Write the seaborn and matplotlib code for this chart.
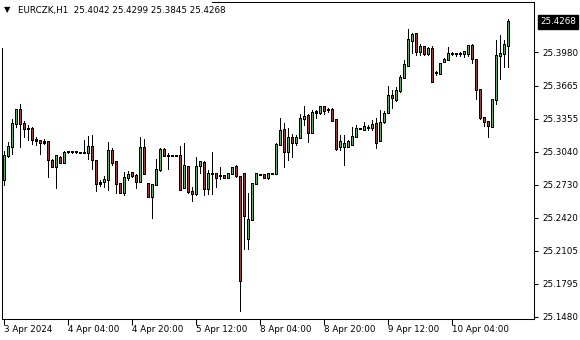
import numpy as np
import pandas as pd
import matplotlib
matplotlib.use("Agg")
import matplotlib.pyplot as plt
import matplotlib.transforms as mtransforms
from matplotlib.patches import Rectangle
import seaborn as sns

symbol = "EURCZK,H1"
time_labels = ["3 Apr 2024", "4 Apr 04:00", "4 Apr 20:00", "5 Apr 12:00",
               "8 Apr 04:00", "8 Apr 20:00", "9 Apr 12:00", "10 Apr 04:00"]
label_bars = [0, 16, 32, 48, 64, 80, 96, 112]
price_ticks = [25.1480, 25.1795, 25.2105, 25.2420, 25.2730,
               25.3040, 25.3355, 25.3665, 25.3980]

opens = [25.2775, 25.3002, 25.3092, 25.3307, 25.3443, 25.3304, 25.3264, 25.3264, 25.3162, 25.3150,
         25.3134, 25.3134, 25.2957, 25.2901, 25.2992, 25.2942, 25.3040, 25.3040, 25.3041, 25.3033,
         25.3033, 25.3037, 25.3093, 25.2961, 25.2749, 25.2759, 25.2775, 25.3058, 25.2945, 25.2744,
         25.2655, 25.2801, 25.2841, 25.2819, 25.2759, 25.3084, 25.2744, 25.2617, 25.2731, 25.2870,
         25.3065, 25.3008, 25.3008, 25.3008, 25.3008, 25.2706, 25.2907, 25.2662, 25.2643, 25.2914,
         25.2938, 25.2693, 25.2838, 25.2838, 25.2816, 25.2819, 25.2801, 25.2832, 25.2907, 25.2806,
         25.2838, 25.2224, 25.2404, 25.2744, 25.2829, 25.2822, 25.2801, 25.2838, 25.2838, 25.3112,
         25.3250, 25.3042, 25.3179, 25.3127, 25.3179, 25.3358, 25.3383, 25.3226, 25.3411, 25.3408,
         25.3465, 25.3439, 25.3439, 25.3345, 25.3090, 25.3096, 25.3090, 25.3112, 25.3184, 25.3257,
         25.3254, 25.3269, 25.3269, 25.3307, 25.3150, 25.3326, 25.3415, 25.3578, 25.3540, 25.3623,
         25.3748, 25.3859, 25.4091, 25.4155, 25.3991, 25.4041, 25.3972, 25.4022, 25.3789, 25.3783,
         25.3897, 25.3916, 25.3972, 25.3969, 25.3972, 25.3972, 25.3972, 25.4048, 25.3916, 25.3632,
         25.3368, 25.3330, 25.3285, 25.3538, 25.3947, 25.3972, 25.4042]

highs = [25.3049, 25.3134, 25.3354, 25.3446, 25.3493, 25.3335, 25.3298, 25.3279, 25.3179, 25.3152,
         25.3165, 25.3136, 25.2971, 25.3002, 25.3002, 25.3052, 25.3052, 25.3050, 25.3050, 25.3035,
         25.3153, 25.3191, 25.3197, 25.2962, 25.2775, 25.2813, 25.3134, 25.3075, 25.2946, 25.2747,
         25.2851, 25.2863, 25.2851, 25.2832, 25.3179, 25.3165, 25.2749, 25.2733, 25.2971, 25.3075,
         25.3075, 25.3033, 25.3010, 25.3010, 25.3096, 25.3125, 25.2909, 25.2706, 25.2995, 25.2955,
         25.2952, 25.2870, 25.3040, 25.2840, 25.2895, 25.2822, 25.2836, 25.2895, 25.2917, 25.2808,
         25.2840, 25.2649, 25.2739, 25.2834, 25.2831, 25.2827, 25.2844, 25.2840, 25.3125, 25.3358,
         25.3314, 25.3266, 25.3207, 25.3200, 25.3396, 25.3471, 25.3402, 25.3434, 25.3439, 25.3477,
         25.3471, 25.3453, 25.3453, 25.3347, 25.3200, 25.3200, 25.3153, 25.3276, 25.3295, 25.3259,
         25.3326, 25.3295, 25.3342, 25.3358, 25.3434, 25.3427, 25.3660, 25.3623, 25.3654, 25.3767,
         25.3909, 25.4199, 25.4161, 25.4161, 25.4060, 25.4043, 25.4035, 25.4041, 25.3808, 25.3883,
         25.3928, 25.4029, 25.3985, 25.3978, 25.3985, 25.3997, 25.4054, 25.4060, 25.3918, 25.3634,
         25.3370, 25.3332, 25.3540, 25.4098, 25.4145, 25.4098, 25.4299]

lows = [25.2728, 25.2988, 25.3021, 25.3279, 25.3090, 25.3184, 25.3153, 25.3115, 25.3103, 25.3021,
        25.3115, 25.2806, 25.2895, 25.2702, 25.2933, 25.2938, 25.3027, 25.3030, 25.3030, 25.3031,
        25.3027, 25.2973, 25.2876, 25.2668, 25.2718, 25.2712, 25.2680, 25.2914, 25.2649, 25.2652,
        25.2636, 25.2775, 25.2803, 25.2697, 25.2757, 25.2827, 25.2615, 25.2413, 25.2729, 25.2863,
        25.3002, 25.2876, 25.3006, 25.3006, 25.2685, 25.2704, 25.2649, 25.2579, 25.2636, 25.2838,
        25.2630, 25.2643, 25.2643, 25.2712, 25.2787, 25.2799, 25.2799, 25.2830, 25.2799, 25.1534,
        25.2126, 25.2126, 25.2402, 25.2742, 25.2827, 25.2799, 25.2787, 25.2836, 25.2836, 25.3106,
        25.2901, 25.2964, 25.2995, 25.3106, 25.3169, 25.3295, 25.3137, 25.3216, 25.3364, 25.3402,
        25.3402, 25.3420, 25.3333, 25.3058, 25.3058, 25.2917, 25.3088, 25.3106, 25.3182, 25.3255,
        25.3252, 25.3245, 25.3248, 25.3075, 25.3148, 25.3318, 25.3413, 25.3458, 25.3522, 25.3604,
        25.3739, 25.3857, 25.3972, 25.3959, 25.3953, 25.3959, 25.3959, 25.3706, 25.3764, 25.3777,
        25.3895, 25.3909, 25.3959, 25.3947, 25.3947, 25.3940, 25.3947, 25.3883, 25.3543, 25.3349,
        25.3285, 25.3184, 25.3283, 25.3493, 25.3727, 25.3846, 25.3845]

closes = [25.3007, 25.3096, 25.3311, 25.3443, 25.3304, 25.3260, 25.3257, 25.3160, 25.3150, 25.3127,
          25.3127, 25.2971, 25.2901, 25.3002, 25.2942, 25.3033, 25.3041, 25.3042, 25.3040, 25.3033,
          25.3037, 25.3093, 25.2971, 25.2744, 25.2737, 25.2782, 25.3058, 25.2938, 25.2744, 25.2655,
          25.2801, 25.2829, 25.2816, 25.2759, 25.3084, 25.2838, 25.2617, 25.2731, 25.2870, 25.3065,
          25.3005, 25.3009, 25.3008, 25.3008, 25.2687, 25.2914, 25.2668, 25.2643, 25.2907, 25.2945,
          25.2693, 25.2832, 25.2837, 25.2801, 25.2817, 25.2801, 25.2832, 25.2893, 25.2813, 25.1823,
          25.2441, 25.2404, 25.2737, 25.2832, 25.2829, 25.2801, 25.2838, 25.2838, 25.3112, 25.3245,
          25.3042, 25.3179, 25.3127, 25.3179, 25.3358, 25.3377, 25.3226, 25.3415, 25.3420, 25.3465,
          25.3434, 25.3438, 25.3339, 25.3075, 25.3137, 25.3122, 25.3137, 25.3184, 25.3257, 25.3257,
          25.3276, 25.3270, 25.3301, 25.3131, 25.3320, 25.3405, 25.3578, 25.3553, 25.3623, 25.3748,
          25.3868, 25.4098, 25.4148, 25.3985, 25.4041, 25.3966, 25.4022, 25.3708, 25.3790, 25.3878,
          25.3916, 25.3972, 25.3973, 25.3968, 25.3973, 25.3987, 25.4048, 25.3925, 25.3632, 25.3368,
          25.3330, 25.3292, 25.3538, 25.3947, 25.3972, 25.4051, 25.4268]

UP_COLOR = "#32CD32"
DOWN_COLOR = "#E01E1E"

sns.set_theme(style="white")
plt.rcParams["font.family"] = ["DejaVu Sans"]

df = pd.DataFrame({"open": opens, "high": highs, "low": lows, "close": closes})
df["bar"] = np.arange(len(df))
df["body_lo"] = df[["open", "close"]].min(axis=1)
df["body_hi"] = df[["open", "close"]].max(axis=1)
df["color"] = np.where(df["close"] > df["open"], UP_COLOR,
                       np.where(df["close"] < df["open"], DOWN_COLOR, "black"))

W, H = 580, 340
fig = plt.figure(figsize=(W / 100, H / 100), dpi=100)
fig.patch.set_facecolor("white")
ax_l, ax_r, ax_t, ax_b = 2, 534, 2, 319
ax = fig.add_axes([ax_l / W, 1 - ax_b / H, (ax_r - ax_l) / W, (ax_b - ax_t) / H])
ax.set_facecolor("white")
ylo, yhi = 25.1461, 25.4457
# bar i centred on pixel column 3 + 4 i
ax.set_xlim(-0.375, 132.625)
ax.set_ylim(ylo, yhi)

px = 72 / 100  # one pixel in points
dy = (yhi - ylo) / (ax_b - ax_t)  # one pixel in price units

x = df["bar"].to_numpy()
# wicks
ax.vlines(x, df["low"].to_numpy(), df["high"].to_numpy(), color="black",
          linewidth=px, zorder=2, capstyle="butt", antialiased=False)
# body outline: 3 px wide black
ax.vlines(x, df["body_lo"].to_numpy() - dy / 2, df["body_hi"].to_numpy() + dy / 2,
          color="black", linewidth=3 * px, zorder=3, capstyle="butt", antialiased=False)
# body fill: inner 1 px coloured
tall = df[(df["body_hi"] - df["body_lo"]) > 1.5 * dy]
ax.vlines(tall["bar"].to_numpy(), tall["body_lo"].to_numpy() + dy / 2,
          tall["body_hi"].to_numpy() - dy / 2, colors=tall["color"].tolist(),
          linewidth=px, zorder=4, capstyle="butt", antialiased=False)

for sp in ax.spines.values():
    sp.set_visible(True)
    sp.set_color("black")
    sp.set_linewidth(0.75)

ax.yaxis.tick_right()
ax.set_yticks(price_ticks)
ax.set_yticklabels([f"{v:.4f}" for v in price_ticks])
ax.set_xticks(label_bars)
ax.set_xticklabels(time_labels, ha="left")
ax.tick_params(axis="y", which="both", right=True, left=False, length=3, width=0.75,
               pad=3, labelsize=6.3, colors="black", direction="out")
ax.tick_params(axis="x", which="both", bottom=True, length=4, width=0.75,
               pad=0.5, labelsize=6.3, colors="black", direction="out")
ax.set_xlabel("")
ax.set_ylabel("")
ax.grid(False)

# current price label
last = closes[-1]
trans = mtransforms.blended_transform_factory(ax.transAxes, ax.transData)
ax.text(1.0 + 6 / (ax_r - ax_l), last, f"{last:.4f}", transform=trans, ha="left",
        va="center", fontsize=6.3, color="white", clip_on=False, zorder=5,
        bbox=dict(boxstyle="square,pad=0.25", facecolor="black", edgecolor="black"))

# header
fig.add_artist(Rectangle((0, 1 - 48 / H), 212 / W, 48 / H, transform=fig.transFigure,
                         facecolor="white", edgecolor="none", zorder=10))
fig.text(4 / W, 1 - 10 / H, "\u25BC", fontsize=6, color="black", va="center",
         ha="left", zorder=11)
fig.text(18 / W, 1 - 10 / H,
         f"{symbol}  {opens[-1]:.4f} {highs[-1]:.4f} {lows[-1]:.4f} {closes[-1]:.4f}",
         fontsize=6.3, color="black", va="center", ha="left", zorder=11)

fig.savefig("out.png", dpi=100, facecolor="white")
